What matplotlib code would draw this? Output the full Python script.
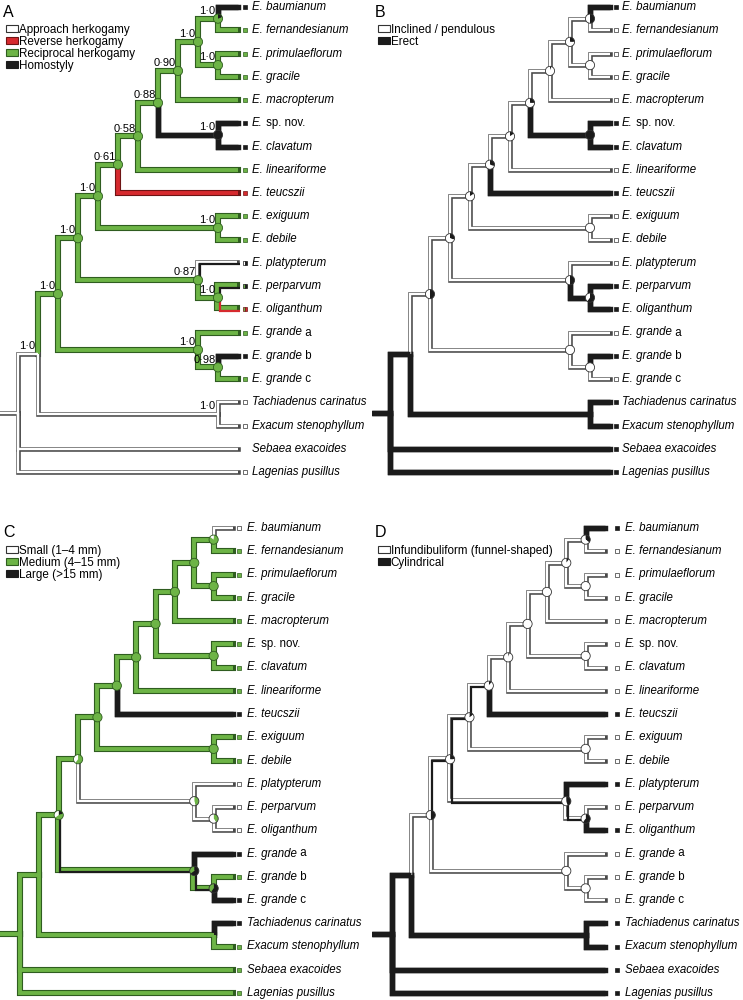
import matplotlib
matplotlib.use("Agg")
import matplotlib.pyplot as plt
from matplotlib import transforms
from matplotlib.patches import Wedge, Circle, Patch

plt.rcParams["font.family"] = ["Liberation Sans", "DejaVu Sans"]

# ----------------------------------------------------------------- data
TAXA_ITALIC = ["E. baumianum", "E. fernandesianum", "E. primulaeflorum", "E. gracile",
               "E. macropterum", "E.", "E. clavatum", "E. lineariforme", "E. teucszii",
               "E. exiguum", "E. debile", "E. platypterum", "E. perparvum", "E. oliganthum",
               "E. grande", "E. grande", "E. grande", "Tachiadenus carinatus",
               "Exacum stenophyllum", "Sebaea exacoides", "Lagenias pusillus"]
TAXA_ROMAN = ["", "", "", "", "", " sp. nov.", "", "", "", "", "", "", "", "",
              " a", " b", " c", "", "", "", ""]

# topology (leaf indices, top to bottom)
TREE = (((((((((((0, 1), (2, 3)), 4), (5, 6)), 7), 8), (9, 10)), (11, (12, 13))),
           (14, (15, 16))), (17, 18)), 19, 20)

# internal clades (first leaf, last leaf)
CLADES = [(0, 20), (0, 18), (0, 16), (17, 18), (0, 13), (14, 16), (0, 10), (11, 13),
          (0, 8), (9, 10), (0, 7), (0, 6), (0, 4), (5, 6), (0, 3), (0, 1), (2, 3),
          (12, 13), (15, 16)]
PIE_CLADES = [(0, 16), (0, 13), (0, 10), (0, 8), (0, 7), (0, 6), (0, 4), (0, 3),
              (0, 1), (2, 3), (5, 6), (9, 10), (11, 13), (12, 13), (14, 16), (15, 16)]

SUPPORT_CLADES = [(0, 1), (0, 3), (2, 3), (0, 4), (0, 6), (5, 6), (0, 7), (0, 8), (9, 10),
                  (0, 10), (0, 13), (11, 13), (12, 13), (0, 16), (14, 16), (15, 16),
                  (0, 18), (17, 18)]
SUPPORT_A = ["1·0", "1·0", "1·0", "0·90", "0·88", "1·0", "0·58", "0·61", "1·0",
             "1·0", "1·0", "0·87", "1·0", "1·0", "1·0", "0·98", "1·0", "1·0"]

# Panel A: herkogamy
LEGEND_A = ["Approach herkogamy", "Reverse herkogamy", "Reciprocal herkogamy", "Homostyly"]
STATES_A = ["W", "R", "G", "K"]
TIPS_A = "K G G G G K K G R G G WK GK GR G K G W W W W".split()
MARKS_A = "K G G G G K K G R G G WK GK GR G K G W W - W".split()
BRANCH_A = "W W G W G G G G G G G G G K G G G G G".split()
PIE_A = [[0, 0, 1, 0], [0, 0, 1, 0], [0, 0, 1, 0], [0, 0, 1, 0], [0, 0, 1, 0],
         [0, 0, 1, 0], [0, 0, 1, 0], [0, 0, 1, 0], [0, 0, .8, .2], [0, 0, 1, 0],
         [0, 0, 0, 1], [0, 0, 1, 0], [0, 0, 1, 0], [0, 0, 1, 0], [0, 0, 1, 0],
         [0, 0, 1, 0]]

# Panel B: flower orientation
LEGEND_B = ["Inclined / pendulous", "Erect"]
STATES_B = ["W", "K"]
TIPS_B = "K W W W W K K W K W W W K K W K W K K K K".split()
MARKS_B = TIPS_B
BRANCH_B = "K K W K W W W W W W W W W K W W W K W".split()
PIE_B = [[.5, .5], [.7, .3], [.85, .15], [.7, .3], [.85, .15], [.75, .25], [.95, .05],
         [.75, .25], [.5, .5], [1, 0], [0, 1], [1, 0], [.5, .5], [.4, .6], [1, 0], [1, 0]]

# Panel C: flower size
LEGEND_C = ["Small (1–4 mm)", "Medium (4–15 mm)", "Large (>15 mm)"]
STATES_C = ["W", "G", "K"]
TIPS_C = "W G G G G G G G K G G W W W K G K K G G G".split()
MARKS_C = TIPS_C
BRANCH_C = "G G G G G GK G W G G G G G G G G G W GK".split()
PIE_C = [[.35, .45, .2], [.4, .6, 0], [0, 1, 0], [0, 1, 0], [0, 1, 0], [0, 1, 0],
         [0, 1, 0], [0, 1, 0], [.15, .85, 0], [0, 1, 0], [0, 1, 0], [0, 1, 0],
         [.55, .45, 0], [.6, .4, 0], [0, .35, .65], [0, .4, .6]]

# Panel D: corolla shape
LEGEND_D = ["Infundibuliform (funnel-shaped)", "Cylindrical"]
STATES_D = ["W", "K"]
TIPS_D = "K W W W W W W W K W W K W K W W W K K K K".split()
MARKS_D = TIPS_D
BRANCH_D = "K K W K WK W WK WK WK W W W W W W W W WK W".split()
PIE_D = [[.5, .5], [.75, .25], [.85, .15], [.9, .1], [.95, .05], [1, 0], [1, 0],
         [.9, .1], [.65, .35], [1, 0], [1, 0], [1, 0], [.55, .45], [.4, .6], [1, 0], [1, 0]]

# ----------------------------------------------------------------- style
STYLE = {
    "W": dict(out="#4a4a4a", fill="#ffffff", wo=3.3, wf=1.7),
    "G": dict(out="#2f5d20", fill="#6db446", wo=4.4, wf=2.8),
    "R": dict(out="#6e1414", fill="#d62a2e", wo=4.4, wf=2.8),
    "K": dict(out="#1b1b1b", fill="#1b1b1b", wo=3.9, wf=3.9),
}
MARK_EDGE = {"W": "#333333", "G": "#2f5d20", "R": "#6e1414", "K": "#1b1b1b"}

FIG_W, FIG_H = 743, 1000


def layout(tree):
    pos, kids = {}, {}

    def rec(node):
        if isinstance(node, int):
            pos[(node, node)] = (0.0, float(node))
            return (node, node)
        keys = [rec(c) for c in node]
        x = min(pos[k][0] for k in keys) - 1
        y = (pos[keys[0]][1] + pos[keys[-1]][1]) / 2
        key = (keys[0][0], keys[-1][1])
        pos[key] = (x, y)
        kids[key] = keys
        return key

    root = rec(tree)
    shift = -pos[root][0]
    pos = {k: (x + shift, y) for k, (x, y) in pos.items()}
    return pos, kids, root


POS, KIDS, ROOT = layout(TREE)
TIP_X = max(x for x, _ in POS.values())


def panel(fig, quad, geom, letter, legend, states, tips, marks, branch, pies, support=None):
    l, t, w, h = quad
    root_px, tip_px, mark_px, lab_px, y0, dy = geom
    ax = fig.add_axes([l / FIG_W, 1 - (t + h) / FIG_H, w / FIG_W, h / FIG_H])
    ax.set_axis_off()
    s = (tip_px - root_px) / TIP_X
    xmin, xmax = -root_px / s, (w - root_px) / s
    ymin, ymax = (h - y0) / dy, -y0 / dy
    ax.set_xlim(xmin, xmax)
    ax.set_ylim(ymin, ymax)

    bstate = dict(zip(CLADES, branch))
    for i, st in enumerate(tips):
        bstate[(i, i)] = st

    segs = []
    rx, ry = POS[ROOT]
    segs.append(([xmin, rx], [ry, ry], bstate[ROOT]))
    for key, ch in KIDS.items():
        px, py = POS[key]
        for c in ch:
            cx, cy = POS[c]
            segs.append(([px, px, cx], [py, cy, cy], bstate[c]))

    up = transforms.offset_copy(ax.transData, fig=fig, x=-0.6, y=0.6, units="points")
    dn = transforms.offset_copy(ax.transData, fig=fig, x=1.1, y=-1.1, units="points")
    for xs, ys, st in segs:
        p = STYLE[st[0]]
        tr = up if len(st) > 1 else ax.transData
        ax.plot(xs, ys, color=p["out"], lw=p["wo"], solid_capstyle="projecting",
                solid_joinstyle="miter", transform=tr, zorder=1)
    for xs, ys, st in segs:
        p = STYLE[st[0]]
        tr = up if len(st) > 1 else ax.transData
        ax.plot(xs, ys, color=p["fill"], lw=p["wf"], solid_capstyle="butt",
                solid_joinstyle="miter", transform=tr, zorder=2)
    for xs, ys, st in segs:
        if len(st) > 1:
            p = STYLE[st[1]]
            ax.plot(xs, ys, color=p["fill"], lw=1.6, solid_capstyle="butt",
                    solid_joinstyle="miter", transform=dn, zorder=3)

    # tip markers and labels
    xm = TIP_X + (mark_px - tip_px) / s
    xl = TIP_X + (lab_px - tip_px) / s
    for i, m in enumerate(marks):
        if m != "-":
            if len(m) == 1:
                ax.plot([xm], [i], marker="s", ms=2.7, mfc=STYLE[m]["fill"],
                        mec=MARK_EDGE[m], mew=0.5, zorder=4)
            else:
                ax.plot([xm], [i], marker="s", ms=2.7, fillstyle="left",
                        mfc=STYLE[m[0]]["fill"], markerfacecoloralt=STYLE[m[1]]["fill"],
                        mec=MARK_EDGE[m[1]], mew=0.5, zorder=4)
        t_it = ax.text(xl, i, TAXA_ITALIC[i], fontsize=8.3, style="italic",
                       va="center", ha="left")
        if TAXA_ROMAN[i]:
            ax.annotate(TAXA_ROMAN[i], xy=(1, 0.5), xycoords=t_it, fontsize=8.3,
                        va="center", ha="left")

    # ancestral-state pies
    R = 0.046
    order = list(range(len(states)))[::-1]
    for key, fr in zip(PIE_CLADES, pies):
        x, y = POS[key]
        trans = fig.dpi_scale_trans + transforms.ScaledTranslation(x, y, ax.transData)
        theta = 90.0
        for j in order:
            f = fr[j]
            if f <= 0:
                continue
            ax.add_patch(Wedge((0, 0), R, theta - f * 360, theta, transform=trans,
                               facecolor=STYLE[states[j]]["fill"], edgecolor="none",
                               zorder=5))
            theta -= f * 360
        dom = states[max(range(len(fr)), key=lambda j: fr[j])]
        ec = "#2f5d20" if dom == "G" else "#333333"
        ax.add_patch(Circle((0, 0), R, transform=trans, fill=False, edgecolor=ec,
                            lw=0.6, zorder=6))

    if support:
        for key, lab in zip(SUPPORT_CLADES, support):
            x, y = POS[key]
            ax.annotate(lab, (x, y), xytext=(-1.8, 2.0), textcoords="offset points",
                        ha="right", va="bottom", fontsize=8, zorder=7)

    handles = [Patch(facecolor=STYLE[st]["fill"], edgecolor=MARK_EDGE[st], lw=0.8)
               for st in states]
    ly = (24 if t == 0 else 45) / h
    lx = 6 / w
    ax.legend(handles, legend, loc="upper left", bbox_to_anchor=(lx, 1 - ly),
              frameon=False, fontsize=8.4, handlelength=1.0, handleheight=0.55,
              handletextpad=0.1, labelspacing=0.0, borderpad=0, borderaxespad=0)

    ax.text(3 / w, 1 - (5 if t == 0 else 25) / h, letter, transform=ax.transAxes,
            fontsize=11.5, va="top", ha="left")

    ax.set_xlim(xmin, xmax)
    ax.set_ylim(ymin, ymax)
    return ax


fig = plt.figure(figsize=(FIG_W / 100, FIG_H / 100), dpi=100)
panel(fig, (0, 0, 372, 500), (18, 238, 245, 252, 7, 23.25), "A", LEGEND_A, STATES_A,
      TIPS_A, MARKS_A, BRANCH_A, PIE_A, SUPPORT_A)
panel(fig, (372, 0, 371, 500), (18, 238, 243.5, 250, 7, 23.25), "B", LEGEND_B, STATES_B,
      TIPS_B, MARKS_B, BRANCH_B, PIE_B)
panel(fig, (0, 500, 372, 500), (20, 233, 239, 247, 28, 23.25), "C", LEGEND_C, STATES_C,
      TIPS_C, MARKS_C, BRANCH_C, PIE_C)
panel(fig, (372, 500, 371, 500), (20, 233, 245, 253, 28, 23.25), "D", LEGEND_D, STATES_D,
      TIPS_D, MARKS_D, BRANCH_D, PIE_D)
fig.savefig("out.png", dpi=100)
